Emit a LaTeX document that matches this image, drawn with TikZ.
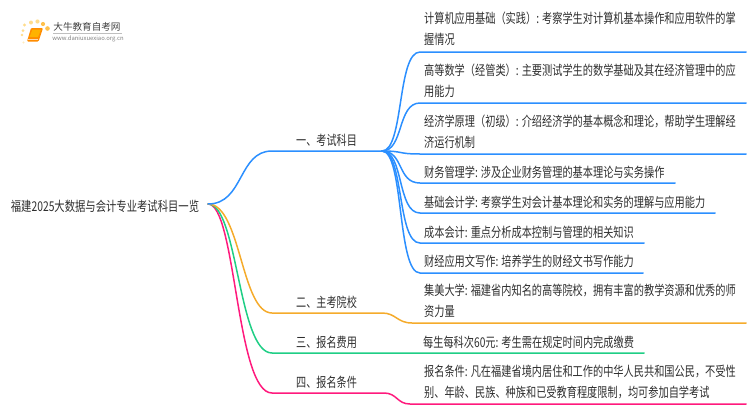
\documentclass[tikz,border=0pt]{standalone}
\usepackage{fontspec}
\setmainfont{Noto Sans CJK SC}
\definecolor{cblue}{HTML}{2B8FFF}
\definecolor{corange}{HTML}{F5AB2B}
\definecolor{cgreen}{HTML}{1FCE85}
\definecolor{cpink}{HTML}{FF1A7D}
\definecolor{ctext}{HTML}{2E2E2E}
\tikzset{
  wire/.style={line width=1.5pt,line cap=round,line join=round},
  leaftext/.style={anchor=west,inner sep=0pt,align=left,text=ctext,xscale=.755,transform shape,font=\fontsize{13.5}{21.5}\selectfont},
  mainlabel/.style={anchor=center,inner sep=0pt,text=ctext,xscale=.75,transform shape,font=\fontsize{13.5}{14}\selectfont},
  rootstyle/.style={mainlabel,xscale=1.02},
  pt/.style={inner sep=0pt,minimum size=0pt}
}
\begin{document}
\begin{tikzpicture}[x=1pt,y=-1pt]
\useasboundingbox (0,0) rectangle (750,410);
% logo
\fill[orange!60!yellow,opacity=.45] (23,30.5) circle (1.5pt) (22,35) circle (1.3pt) (24.5,25) circle (1.7pt) (31,22.5) circle (2pt) (37.5,21.5) circle (2.1pt);
\fill[orange!70!yellow,opacity=.7] (43,24) circle (2.1pt) (47.5,28.5) circle (2.3pt);
\fill[orange!60!yellow,opacity=.25] (23.5,42.5) circle (1.1pt);
\fill[orange!90!yellow,rounded corners=1pt] (31,28) -- (43,28) -- (38.5,41.5) -- (27,41.5) -- cycle;
\fill[orange!60!yellow] (32.5,29.5) -- (41,29.5) -- (38,37) -- (29.5,37) -- cycle;
\draw[orange!30!white,line width=.6pt] (28,39.7) -- (38,39.7);
\node[pt,text=black!75,font=\fontsize{9.6}{11}\selectfont] (logotitle) at (87,26.5) {大牛教育自考网};
\node[pt,text=black!50,font=\fontsize{5.9}{7}\selectfont] (logourl) at (88,38.5) {www.daniuxuexiao.org.cn};
\draw[black!25,line width=.5pt] (53,33) -- (122,33);

% hubs and ends
\coordinate (root) at (208,204);
\coordinate (hubA) at (382,151);
\coordinate (kneeA) at (272,151);
\coordinate (kneeB) at (272,313);
\coordinate (hubB) at (382,313);
\coordinate (kneeC) at (272,353);
\coordinate (kneeD) at (272,393);
\coordinate (hubD) at (384,393);
\coordinate (cx) at (397,0);
\coordinate (s1) at (420,52);  \coordinate (e1) at (746,52);
\coordinate (s2) at (420,103); \coordinate (e2) at (746,103);
\coordinate (s3) at (420,154); \coordinate (e3) at (746,154);
\coordinate (s4) at (420,183); \coordinate (e4) at (675,183);
\coordinate (s5) at (420,213); \coordinate (e5) at (715,213);
\coordinate (s6) at (420,243); \coordinate (e6) at (644,243);
\coordinate (s7) at (420,273); \coordinate (e7) at (643,273);
\coordinate (s8) at (412,323); \coordinate (e8) at (746,323);
\coordinate (e9) at (644,353);
\coordinate (s10) at (410,404); \coordinate (e10) at (746,404);

% connectors
\draw[wire,cpink] (root) .. controls (236,204) and (236,393) .. (kneeD) -- (hubD) .. controls (397,393) and (397,404) .. (s10) -- (e10);
\draw[wire,cgreen] (root) .. controls (238,204) and (238,353) .. (kneeC) -- (e9);
\draw[wire,corange] (root) .. controls (241,204) and (241,313) .. (kneeB) -- (hubB) .. controls (396,313) and (397,323) .. (s8) -- (e8);
\draw[wire,cblue] (root) .. controls (244,204) and (238,151) .. (kneeA) -- (hubA);
\foreach \i in {1,...,7}{
  \draw[wire,cblue] (hubA) .. controls (404,151) and (cx|-s\i) .. (s\i) -- (e\i);
}

% texts
\node[rootstyle] (rootlabel) at (105,206) {福建2025大数据与会计专业考试科目一览};
\node[mainlabel] (b1) at (326.5,140) {一、考试科目};
\node[mainlabel] (b2) at (326.5,302) {二、主考院校};
\node[mainlabel] (b3) at (326.5,342) {三、报名费用};
\node[mainlabel] (b4) at (326.5,382) {四、报名条件};

\node[leaftext] (t1) at (424,29) {计算机应用基础（实践）: 考察学生对计算机基本操作和应用软件的掌\\握情况};
\node[leaftext] (t2) at (424,81) {高等数学（经管类）: 主要测试学生的数学基础及其在经济管理中的应\\用能力};
\node[leaftext] (t3) at (424,132) {经济学原理（初级）: 介绍经济学的基本概念和理论，帮助学生理解经\\济运行机制};
\node[leaftext] (t4) at (424,172) {财务管理学: 涉及企业财务管理的基本理论与实务操作};
\node[leaftext] (t5) at (424,202) {基础会计学: 考察学生对会计基本理论和实务的理解与应用能力};
\node[leaftext] (t6) at (424,232) {成本会计: 重点分析成本控制与管理的相关知识};
\node[leaftext] (t7) at (424,261) {财经应用文写作: 培养学生的财经文书写作能力};
\node[leaftext] (t8) at (424,301) {集美大学: 福建省内知名的高等院校，拥有丰富的教学资源和优秀的师\\资力量};
\node[leaftext] (t9) at (423,342) {每生每科次60元: 考生需在规定时间内完成缴费};
\node[leaftext] (t10) at (424,382) {报名条件: 凡在福建省境内居住和工作的中华人民共和国公民，不受性\\别、年龄、民族、种族和已受教育程度限制，均可参加自学考试};
\end{tikzpicture}
\end{document}
